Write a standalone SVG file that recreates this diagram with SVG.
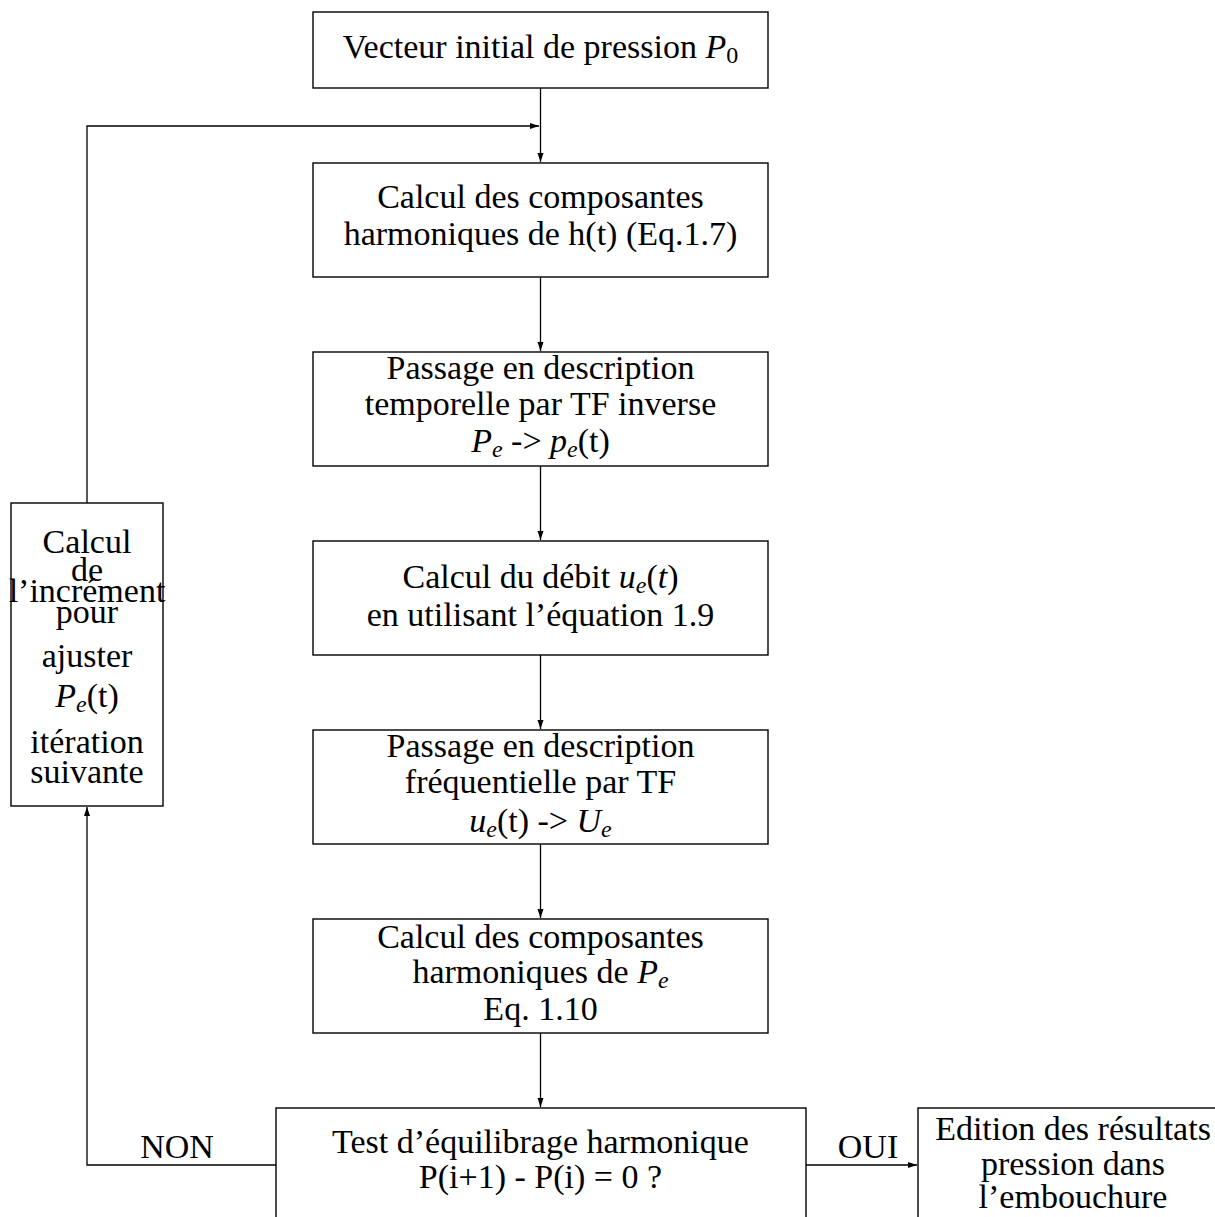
<svg xmlns="http://www.w3.org/2000/svg" width="1215" height="1217" viewBox="0 0 1215 1217">
<style>
text{font-family:"Liberation Serif","Times New Roman",serif;font-size:34px;fill:#000;text-anchor:middle}
.m{font-style:italic}
.s{font-style:italic;font-size:24px}
.s0{font-style:normal;font-size:24px}
.box{fill:#fff;stroke:#000;stroke-width:1.4}
.c{fill:none;stroke:#000;stroke-width:1.3}
</style>
<defs>
<marker id="ah" markerUnits="userSpaceOnUse" markerWidth="10" markerHeight="8" refX="9" refY="3" orient="auto">
<path d="M0,0 L9,3 L0,6 z" fill="#000"/>
</marker>
</defs>
<rect width="1215" height="1217" fill="#fff"/>
<g id="connectors">
<line class="c" x1="540.5" y1="88" x2="540.5" y2="162" marker-end="url(#ah)"/>
<polyline class="c" points="87,503 87,126 539,126" marker-end="url(#ah)"/>
<line class="c" x1="540.5" y1="277" x2="540.5" y2="351" marker-end="url(#ah)"/>
<line class="c" x1="540.5" y1="466" x2="540.5" y2="540" marker-end="url(#ah)"/>
<line class="c" x1="540.5" y1="655" x2="540.5" y2="729" marker-end="url(#ah)"/>
<line class="c" x1="540.5" y1="844" x2="540.5" y2="918" marker-end="url(#ah)"/>
<line class="c" x1="540.5" y1="1033" x2="540.5" y2="1107" marker-end="url(#ah)"/>
<polyline class="c" points="276,1165 87,1165 87,807" marker-end="url(#ah)"/>
<line class="c" x1="806" y1="1165" x2="917" y2="1165" marker-end="url(#ah)"/>
<text x="177" y="1158">NON</text>
<text x="868" y="1158">OUI</text>
</g>
<g id="n1">
<rect class="box" x="313" y="12" width="455" height="76"/>
<text x="540.5" y="58">Vecteur initial de pression <tspan class="m">P</tspan><tspan class="s0" dy="5">0</tspan></text>
</g>
<g id="n2">
<rect class="box" x="313" y="163" width="455" height="114"/>
<text x="540.5" y="208">Calcul des composantes</text>
<text x="540.5" y="245">harmoniques de h(t) (Eq.1.7)</text>
</g>
<g id="n3">
<rect class="box" x="313" y="352" width="455" height="114"/>
<text x="540.5" y="379">Passage en description</text>
<text x="540.5" y="415">temporelle par TF inverse</text>
<text x="540.5" y="452"><tspan class="m">P</tspan><tspan class="s" dy="5">e</tspan><tspan dy="-5"> -&gt; </tspan><tspan class="m">p</tspan><tspan class="s" dy="5">e</tspan><tspan dy="-5">(t)</tspan></text>
</g>
<g id="n4">
<rect class="box" x="313" y="541" width="455" height="114"/>
<text x="540.5" y="588">Calcul du débit <tspan class="m">u</tspan><tspan class="s" dy="5">e</tspan><tspan dy="-5">(</tspan><tspan class="m">t</tspan>)</text>
<text x="540.5" y="626">en utilisant l’équation 1.9</text>
</g>
<g id="n5">
<rect class="box" x="313" y="730" width="455" height="114"/>
<text x="540.5" y="757">Passage en description</text>
<text x="540.5" y="793">fréquentielle par TF</text>
<text x="540.5" y="832"><tspan class="m">u</tspan><tspan class="s" dy="5">e</tspan><tspan dy="-5">(t) -&gt; </tspan><tspan class="m">U</tspan><tspan class="s" dy="5">e</tspan></text>
</g>
<g id="n6">
<rect class="box" x="313" y="919" width="455" height="114"/>
<text x="540.5" y="948">Calcul des composantes</text>
<text x="540.5" y="983">harmoniques de <tspan class="m">P</tspan><tspan class="s" dy="5">e</tspan></text>
<text x="540.5" y="1020">Eq. 1.10</text>
</g>
<g id="n7">
<rect class="box" x="276" y="1108" width="530" height="130"/>
<text x="540.5" y="1153">Test d’équilibrage harmonique</text>
<text x="540.5" y="1188">P(i+1) - P(i) = 0 ?</text>
</g>
<g id="n8">
<rect class="box" x="918" y="1108" width="320" height="130"/>
<text x="1073" y="1140">Edition des résultats</text>
<text x="1073" y="1175">pression dans</text>
<text x="1073" y="1208">l’embouchure</text>
</g>
<g id="n9">
<rect class="box" x="11" y="503" width="152" height="303"/>
<text x="87" y="553">Calcul</text>
<text x="87" y="581">de</text>
<text x="87" y="602">l’incrément</text>
<text x="87" y="623">pour</text>
<text x="87" y="667">ajuster</text>
<text x="87" y="707"><tspan class="m">P</tspan><tspan class="s" dy="5">e</tspan><tspan dy="-5">(t)</tspan></text>
<text x="87" y="753">itération</text>
<text x="87" y="783">suivante</text>
</g>
</svg>
